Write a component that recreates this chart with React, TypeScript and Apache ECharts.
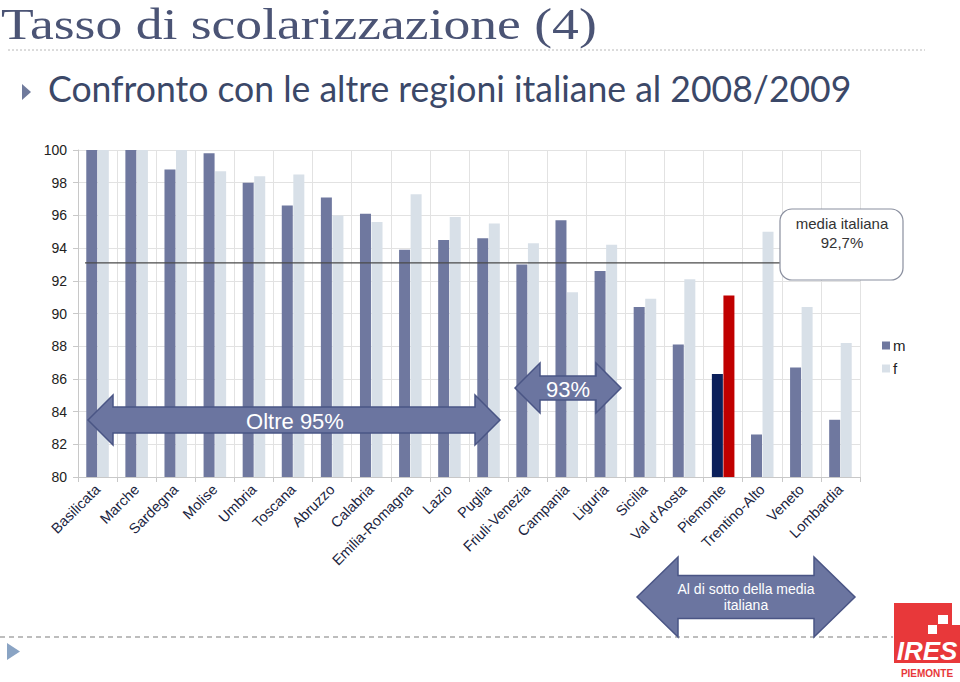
import React, { useEffect, useRef } from "react";
import * as echarts from "echarts";

const regions = [
  "Basilicata", "Marche", "Sardegna", "Molise", "Umbria", "Toscana", "Abruzzo",
  "Calabria", "Emilia-Romagna", "Lazio", "Puglia", "Friuli-Venezia", "Campania",
  "Liguria", "Sicilia", "Val d'Aosta", "Piemonte", "Trentino-Alto", "Veneto", "Lombardia",
];
const maleValues = [100, 100, 98.8, 99.8, 98.0, 96.6, 97.1, 96.1, 93.9, 94.5, 94.6, 93.0, 95.7, 92.6, 90.4, 88.1, 86.3, 82.6, 86.7, 83.5];
const femaleValues = [100, 100, 100, 98.7, 98.4, 98.5, 96.0, 95.6, 97.3, 95.9, 95.5, 94.3, 91.3, 94.2, 90.9, 92.1, 91.1, 95.0, 90.4, 88.2];
const yTicks = [80, 82, 84, 86, 88, 90, 92, 94, 96, 98, 100];
const highlightRegion = "Piemonte";
const meanLineValue = 93.1;
const meanLineSpan = [0.18, 17.95];

const TITLE = "Tasso di scolarizzazione (4)";
const SUBTITLE = "Confronto con le altre regioni italiane al 2008/2009";

function measure(text: string, font: string): number {
  const c = document.createElement("canvas");
  const ctx = c.getContext("2d")!;
  ctx.font = font;
  return ctx.measureText(text).width;
}

function doubleArrow(x1: number, x2: number, cy: number, hh: number, sh: number, hl: number) {
  return [
    [x1, cy], [x1 + hl, cy - hh], [x1 + hl, cy - sh], [x2 - hl, cy - sh], [x2 - hl, cy - hh],
    [x2, cy], [x2 - hl, cy + hh], [x2 - hl, cy + sh], [x1 + hl, cy + sh], [x1 + hl, cy + hh],
  ];
}

export default function App() {
  const ref = useRef<HTMLDivElement>(null);
  useEffect(() => {
    document.body.style.margin = "0";
    const chart = echarts.init(ref.current!, null, { renderer: "svg" });
    const mColor = "#6f789f";
    const fColor = "#d8e0e8";

    const titleFont = "44px 'Liberation Serif'";
    const subFont = "36px Lato";
    const titleScale = 596 / measure(TITLE, titleFont);
    const subScale = 804 / measure(SUBTITLE, subFont);

    const arrowStyle = { fill: "#6b75a0", stroke: "#4a5585", lineWidth: 1.5 };

    chart.setOption({
      animation: false,
      backgroundColor: "#ffffff",
      grid: { left: 78, right: 100, top: 150, bottom: 205, containLabel: false },
      legend: {
        data: ["m", "f"],
        orient: "vertical",
        left: 877,
        top: 333,
        itemWidth: 8,
        itemHeight: 8,
        itemGap: 8,
        icon: "rect",
        textStyle: { fontFamily: "Arial, 'Liberation Sans'", fontSize: 15, color: "#222", padding: [0, 0, 0, -2] },
      },
      xAxis: [
        {
          type: "category",
          data: regions,
          axisLine: { lineStyle: { color: "#c8c8c8" } },
          axisTick: { show: true, length: 5, lineStyle: { color: "#c8c8c8" } },
          splitLine: { show: true, lineStyle: { color: "#e2e2e2" } },
          axisLabel: {
            rotate: 45,
            interval: 0,
            margin: 10,
            fontFamily: "Arial, 'Liberation Sans'",
            fontSize: 14.5,
            color: "#1a2440",
          },
        },
        { type: "value", min: 0, max: regions.length, show: false },
      ],
      yAxis: {
        type: "value",
        min: yTicks[0],
        max: yTicks[yTicks.length - 1],
        interval: 2,
        axisLine: { show: true, lineStyle: { color: "#c8c8c8" } },
        axisTick: { show: true, length: 5, lineStyle: { color: "#c8c8c8" } },
        splitLine: { show: true, lineStyle: { color: "#e2e2e2" } },
        axisLabel: {
          margin: 11,
          fontFamily: "Arial, 'Liberation Sans'",
          fontSize: 14,
          color: "#222",
        },
      },
      series: [
        {
          name: "m",
          type: "bar",
          barWidth: 11,
          barGap: "5%",
          itemStyle: { color: mColor },
          data: maleValues.map((v, i) =>
            regions[i] === highlightRegion ? { value: v, itemStyle: { color: "#0b1f5a" } } : v
          ),
        },
        {
          name: "f",
          type: "bar",
          barWidth: 11,
          barGap: "5%",
          itemStyle: { color: fColor },
          data: femaleValues.map((v, i) =>
            regions[i] === highlightRegion ? { value: v, itemStyle: { color: "#c00000" } } : v
          ),
        },
        {
          name: "media",
          type: "line",
          xAxisIndex: 1,
          symbol: "none",
          lineStyle: { color: "#4a4a4a", width: 1.2 },
          data: [
            [meanLineSpan[0], meanLineValue],
            [meanLineSpan[1], meanLineValue],
          ],
          z: 5,
        },
      ],
      graphic: [
        {
          type: "text",
          x: 1,
          y: 2,
          scaleX: titleScale,
          style: { text: TITLE, font: titleFont, fill: "#4b5475", textVerticalAlign: "top" },
        },
        {
          type: "line",
          shape: { x1: 8, y1: 50, x2: 925, y2: 50 },
          style: { stroke: "#b8b8b8", lineWidth: 1, lineDash: [2, 2] },
        },
        {
          type: "polygon",
          shape: { points: [[22, 84], [31, 92], [22, 100]] },
          style: { fill: "#6f7a9c" },
        },
        {
          type: "text",
          x: 48,
          y: 70,
          scaleX: subScale,
          style: { text: SUBTITLE, font: subFont, fill: "#3b4868", textVerticalAlign: "top" },
        },
        {
          type: "polygon",
          z: 10,
          shape: { points: doubleArrow(88, 500, 420, 25, 13, 25) },
          style: arrowStyle,
        },
        {
          type: "text",
          z: 11,
          x: 295,
          y: 421,
          style: { text: "Oltre 95%", font: "22px Arial, 'Liberation Sans'", fill: "#ffffff", textAlign: "center", textVerticalAlign: "middle" },
        },
        {
          type: "polygon",
          z: 10,
          shape: { points: doubleArrow(515, 621, 388, 25, 12, 25) },
          style: arrowStyle,
        },
        {
          type: "text",
          z: 11,
          x: 568,
          y: 389,
          style: { text: "93%", font: "22px Arial, 'Liberation Sans'", fill: "#ffffff", textAlign: "center", textVerticalAlign: "middle" },
        },
        {
          type: "rect",
          z: 10,
          shape: { x: 780, y: 209, width: 123, height: 71, r: 12 },
          style: { fill: "#ffffff", stroke: "#8a8f9f", lineWidth: 1.2 },
        },
        {
          type: "text",
          z: 11,
          x: 842,
          y: 223,
          style: { text: "media italiana", font: "15px Arial, 'Liberation Sans'", fill: "#333", textAlign: "center", textVerticalAlign: "middle" },
        },
        {
          type: "text",
          z: 11,
          x: 842,
          y: 242,
          style: { text: "92,7%", font: "15px Arial, 'Liberation Sans'", fill: "#333", textAlign: "center", textVerticalAlign: "middle" },
        },
        {
          type: "line",
          shape: { x1: 0, y1: 637, x2: 893, y2: 637 },
          style: { stroke: "#a8a8a8", lineWidth: 1.5, lineDash: [5, 4] },
        },
        {
          type: "polygon",
          shape: { points: [[7, 643], [20, 651.5], [7, 660]] },
          style: { fill: "#8aa4c4" },
        },
        {
          type: "polygon",
          z: 10,
          shape: { points: doubleArrow(637, 855, 597, 40, 21.5, 41) },
          style: arrowStyle,
        },
        {
          type: "text",
          z: 11,
          x: 746,
          y: 597,
          style: {
            text: "Al di sotto della media\nitaliana",
            font: "14px Arial, 'Liberation Sans'",
            fill: "#ffffff",
            textAlign: "center",
            textVerticalAlign: "middle",
            lineHeight: 16,
          },
        },
        {
          type: "polygon",
          shape: { points: [[894, 603], [952, 603], [952, 625], [960, 625], [960, 663], [894, 663]] },
          style: { fill: "#e8383a" },
        },
        {
          type: "rect",
          shape: { x: 938, y: 615, width: 10, height: 9 },
          style: { fill: "#ffffff" },
        },
        {
          type: "rect",
          shape: { x: 928, y: 625, width: 9, height: 9 },
          style: { fill: "#ffffff" },
        },
        {
          type: "text",
          x: 927,
          y: 651,
          style: { text: "IRES", font: "italic bold 26px Arial, 'Liberation Sans'", fill: "#ffffff", textAlign: "center", textVerticalAlign: "middle" },
        },
        {
          type: "text",
          x: 927,
          y: 673,
          style: { text: "PIEMONTE", font: "bold 10px Arial, 'Liberation Sans'", fill: "#e8383a", textAlign: "center", textVerticalAlign: "middle" },
        },
      ],
    });
    return () => chart.dispose();
  }, []);
  return (
    <div
      ref={ref}
      style={{ position: "absolute", left: 0, top: 0, width: 960, height: 682 }}
    />
  );
}
